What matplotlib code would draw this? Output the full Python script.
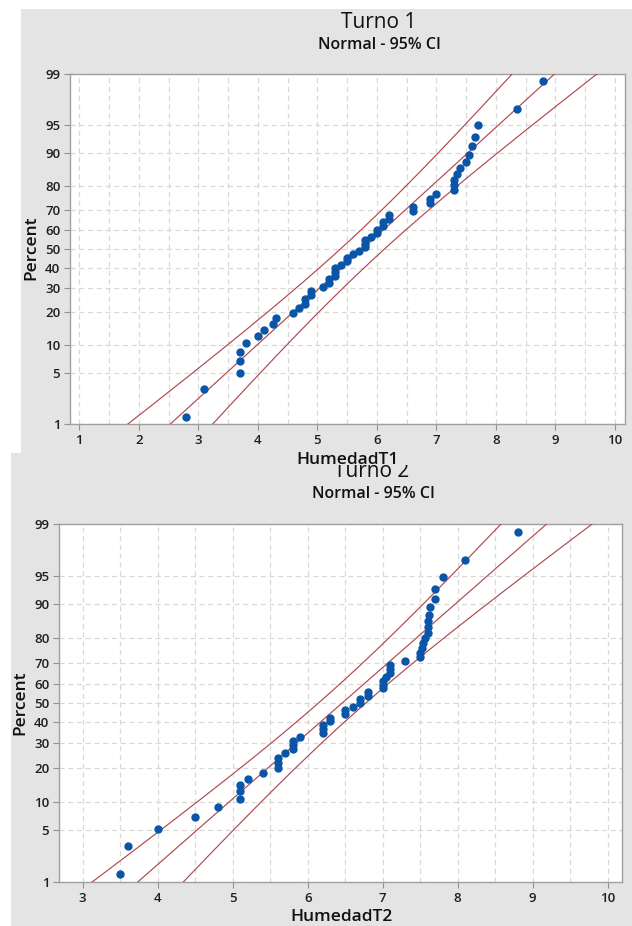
#!/usr/bin/env python3
"""
Normal probability plots for the two shifts (Minitab style)
"""

from statistics import NormalDist

import matplotlib
matplotlib.use("Agg")
import matplotlib.pyplot as plt
from matplotlib.patches import Rectangle
import numpy as np

# humidity readings (sorted)
humedadT1 = [2.8, 3.1, 3.7, 3.7, 3.7, 3.8, 4.0, 4.1, 4.25, 4.3, 4.6, 4.7, 4.8, 4.8,
             4.9, 4.9, 5.1, 5.2, 5.2, 5.3, 5.3, 5.3, 5.4, 5.5, 5.5, 5.6, 5.7, 5.8,
             5.8, 5.8, 5.9, 6.0, 6.0, 6.1, 6.1, 6.2, 6.2, 6.6, 6.6, 6.9, 6.9, 7.0,
             7.3, 7.3, 7.3, 7.35, 7.4, 7.5, 7.55, 7.6, 7.65, 7.7, 8.35, 8.8]
humedadT2 = [3.5, 3.6, 4.0, 4.5, 4.8, 5.1, 5.1, 5.1, 5.2, 5.4, 5.6, 5.6, 5.6, 5.7,
             5.8, 5.8, 5.8, 5.9, 6.2, 6.2, 6.2, 6.3, 6.3, 6.5, 6.5, 6.6, 6.7, 6.7,
             6.8, 6.8, 7.0, 7.0, 7.0, 7.05, 7.1, 7.1, 7.1, 7.3, 7.5, 7.5, 7.52, 7.54,
             7.57, 7.6, 7.6, 7.6, 7.62, 7.63, 7.7, 7.7, 7.8, 8.1, 8.8]

percentTicks = [1, 5, 10, 20, 30, 40, 50, 60, 70, 80, 90, 95, 99]
xticksT1 = [1, 2, 3, 4, 5, 6, 7, 8, 9, 10]
xticksT2 = [3, 4, 5, 6, 7, 8, 9, 10]

W, H = 632, 926
FONT = ["Open Sans", "DejaVu Sans"]
BLUE = "#0a55a8"
RED = "#b04a4e"
PANEL = "#e4e4e4"

nd = NormalDist()


def fx(px):
	return px / W


def fy(py):
	return 1 - py / H


def panel(fig, box, axbox, data, xlim, xticks, title, titleXY, subXY,
		xlabel, xlabelXY, ylabelXY, z0):
	x0, y0, x1, y1 = box
	fig.add_artist(Rectangle((fx(x0), fy(y1)), fx(x1 - x0), (y1 - y0) / H,
		transform=fig.transFigure, facecolor=PANEL, edgecolor="none", zorder=z0))

	l, t, r, b = axbox
	ax = fig.add_axes([fx(l), fy(b), fx(r - l), (b - t) / H], zorder=z0 + 0.1)
	ax.set_facecolor("white")

	data = np.sort(np.array(data))
	n = len(data)
	ranks = np.arange(1, n + 1)
	pct = (ranks - 0.3) / (n + 0.4)
	zpts = np.array([nd.inv_cdf(p) for p in pct])

	mu = data.mean()
	sd = data.std(ddof=1)
	zc = nd.inv_cdf(0.975)
	zz = np.linspace(-3.2, 3.2, 300)
	half = zc * sd * np.sqrt((1 + zz ** 2 / 2) / n)
	xfit = mu + zz * sd
	for xs in (xfit, xfit - half, xfit + half):
		ax.plot(xs, zz, color=RED, lw=0.85, zorder=3)

	ax.plot(data, zpts, "o", color=BLUE, ms=5, mec=BLUE, zorder=4)

	ax.set_xticks(xticks)
	ax.set_xticks(np.arange(xticks[0] - 0.5, xticks[-1] + 0.51, 0.5), minor=True)
	ax.set_yticks([nd.inv_cdf(p / 100) for p in percentTicks])
	ax.set_yticklabels([str(p) for p in percentTicks])
	ax.set_xlim(*xlim)
	ax.set_ylim(nd.inv_cdf(0.01), nd.inv_cdf(0.99))
	ax.grid(True, which="both", axis="x", color="#d8d8d8", ls=(0, (4, 3)), lw=0.9)
	ax.grid(True, which="major", axis="y", color="#d8d8d8", ls=(0, (4, 3)), lw=0.9)
	ax.set_axisbelow(True)
	ax.tick_params(which="major", direction="out", length=4, width=0.8,
		color="#909090", labelcolor="#1e1e1e", labelsize=9.5, pad=3)
	ax.tick_params(which="minor", length=0)
	for lab in ax.get_xticklabels() + ax.get_yticklabels():
		lab.set_family(FONT)
		lab.set_weight("semibold")
	for sp in ax.spines.values():
		sp.set_color("#a0a0a0")
		sp.set_linewidth(1)

	fig.text(fx(titleXY[0]), fy(titleXY[1]), title, ha="center", va="baseline",
		fontsize=15, family=FONT, color="#111111", zorder=z0 + 0.2)
	fig.text(fx(subXY[0]), fy(subXY[1]), "Normal - 95% CI", ha="center", va="baseline",
		fontsize=11.5, family=FONT, weight="semibold", color="#111111", zorder=z0 + 0.2)
	fig.text(fx(xlabelXY[0]), fy(xlabelXY[1]), xlabel, ha="center", va="baseline",
		fontsize=12.5, family=FONT, weight="semibold", color="#111111", zorder=z0 + 0.2)
	fig.text(fx(ylabelXY[0]), fy(ylabelXY[1]), "Percent", ha="center", va="center",
		rotation=90, fontsize=12.5, family=FONT, weight="semibold", color="#111111",
		zorder=z0 + 0.2)
	return ax


def main():
	fig = plt.figure(figsize=(W / 100, H / 100), dpi=100)
	fig.patch.set_facecolor("white")

	# lower panel first, the upper one overlaps it
	panel(fig, (11, 453, 632, 926), (59, 524, 622, 882), humedadT2,
		(2.684, 10.19), xticksT2, "Turno 2", (372, 477), (373, 498),
		"HumedadT2", (341, 921), (20, 703), 1)

	panel(fig, (21, 9, 632, 465), (70, 74, 625, 424), humedadT1,
		(0.845, 10.17), xticksT1, "Turno 1", (379, 28), (379, 49),
		"HumedadT1", (348, 464), (31, 248), 5)

	fig.savefig("out.png", dpi=100)


if __name__ == "__main__":
	main()
